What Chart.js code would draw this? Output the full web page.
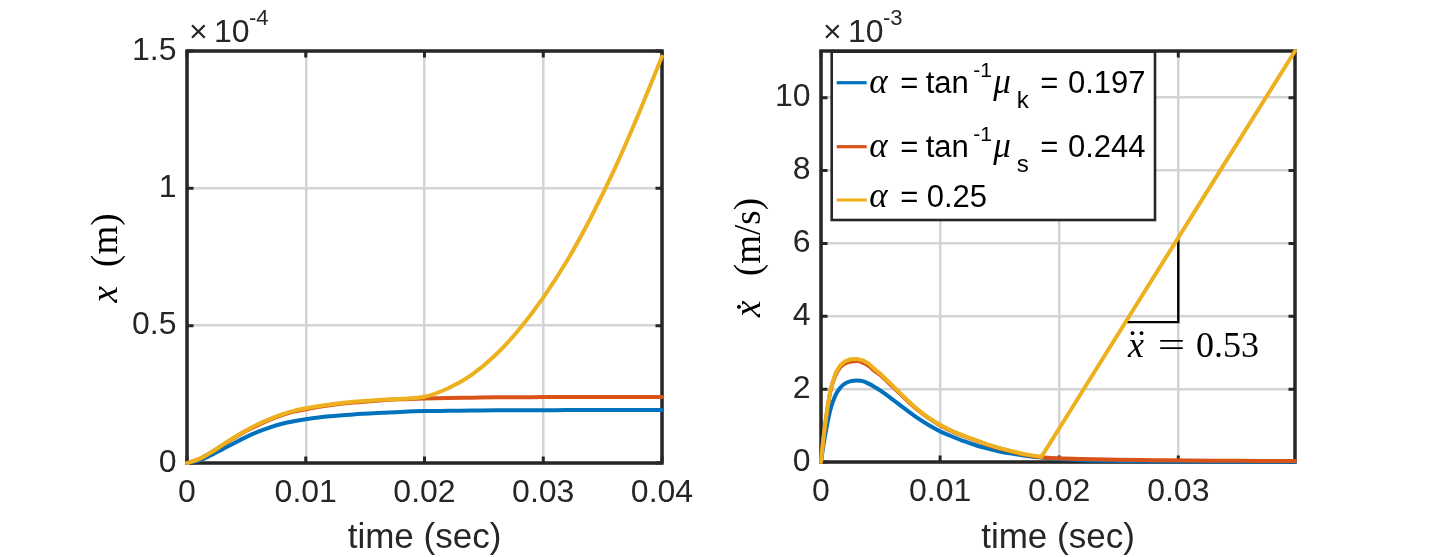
<!DOCTYPE html>
<html><head><meta charset="utf-8">
<script src="https://cdn.jsdelivr.net/npm/chart.js@4.4.1/dist/chart.umd.min.js"></script>
<style>
html,body{margin:0;padding:0;background:#fff;}
#wrap{position:relative;width:1440px;height:557px;overflow:hidden;background:#fff;}
.cv{position:absolute;top:0;width:720px;height:557px;}
</style></head><body>
<div id="wrap">
<div class="cv" style="left:0"><canvas id="c1" width="720" height="557"></canvas></div>
<div class="cv" style="left:720px"><canvas id="c2" width="720" height="557"></canvas></div>
</div>
<script>
// ---------------- data ----------------
const seriesColors = ['#0072BD', '#D95319', '#EDB120'];

// left panel: displacement x (units of 1e-4 m) vs time (s)
const timePos = [0, 0.001, 0.002, 0.003, 0.004, 0.005, 0.006, 0.007, 0.008, 0.009, 0.010,
  0.012, 0.014, 0.016, 0.018, 0.020, 0.022, 0.024, 0.026, 0.028, 0.030, 0.032, 0.034, 0.036, 0.038, 0.040];
const posBlue = [0, 0.009, 0.028, 0.050, 0.073, 0.095, 0.114, 0.130, 0.143, 0.152, 0.159,
  0.170, 0.177, 0.182, 0.186, 0.189, 0.190, 0.191, 0.192, 0.192, 0.192, 0.193, 0.193, 0.193, 0.193, 0.193];
const posOrange = [0, 0.014, 0.037, 0.065, 0.092, 0.117, 0.139, 0.158, 0.174, 0.187, 0.196,
  0.210, 0.220, 0.227, 0.232, 0.235, 0.237, 0.238, 0.239, 0.239, 0.240, 0.240, 0.240, 0.240, 0.240, 0.240];
const posYellow = [0, 0.014, 0.038, 0.066, 0.094, 0.119, 0.142, 0.161, 0.177, 0.190, 0.199,
  0.213, 0.223, 0.229, 0.234, 0.241, 0.272, 0.322, 0.394, 0.488, 0.602, 0.736, 0.893, 1.070, 1.268, 1.480];

// right panel: velocity (units of 1e-3 m/s) vs time (s)
const timeVel = [0, 0.0002, 0.0005, 0.0008, 0.0012, 0.0016, 0.002, 0.0025, 0.003, 0.0035, 0.004, 0.0045,
  0.005, 0.006, 0.007, 0.008, 0.009, 0.010, 0.011, 0.012, 0.013, 0.014, 0.015, 0.016, 0.017, 0.0185,
  0.020, 0.022, 0.025, 0.028, 0.031, 0.034, 0.037, 0.0398];
const velBlue = [0, 0.45, 1.00, 1.45, 1.82, 2.03, 2.15, 2.22, 2.24, 2.22, 2.15, 2.06,
  1.96, 1.72, 1.47, 1.23, 1.02, 0.84, 0.70, 0.57, 0.46, 0.37, 0.29, 0.23, 0.18, 0.12,
  0.08, 0.05, 0.03, 0.02, 0.015, 0.01, 0.01, 0.01];
const velOrange = [0, 0.63, 1.37, 1.96, 2.37, 2.59, 2.70, 2.76, 2.77, 2.73, 2.64, 2.50,
  2.38, 2.07, 1.76, 1.46, 1.21, 1.01, 0.84, 0.71, 0.59, 0.47, 0.37, 0.29, 0.21, 0.13,
  0.10, 0.08, 0.06, 0.05, 0.04, 0.035, 0.03, 0.03];
const velYellow = [0, 0.65, 1.40, 2.00, 2.42, 2.65, 2.76, 2.82, 2.83, 2.79, 2.70, 2.55,
  2.42, 2.10, 1.78, 1.47, 1.22, 1.02, 0.85, 0.72, 0.60, 0.48, 0.38, 0.30, 0.22, 0.14,
  0.92, 1.97, 3.54, 5.11, 6.68, 8.25, 9.82, 11.28];

// slope triangle annotation (time, velocity)
const annotTime = [0.0257, 0.03, 0.03];
const annotVel = [3.84, 3.84, 6.14];
const annotValue = '0.53';
const annotLabelVel = 2.89;

// ticks
const posXTicks = [0, 0.01, 0.02, 0.03, 0.04];
const posXLabels = ['0', '0.01', '0.02', '0.03', '0.04'];
const posYTicks = [0, 0.5, 1, 1.5];
const posYLabels = ['0', '0.5', '1', '1.5'];
const velXTicks = [0, 0.01, 0.02, 0.03];
const velXLabels = ['0', '0.01', '0.02', '0.03'];
const velYTicks = [0, 2, 4, 6, 8, 10];
const velYLabels = ['0', '2', '4', '6', '8', '10'];
const posExponent = '-4';
const velExponent = '-3';

// legend text pieces
const legendSup = ['-1', '-1', null];
const legendSub = ['k', 's', null];
const legendValue = ['0.197', '0.244', '0.25'];

// ---------------- helpers ----------------
const SANS = '"Liberation Sans", Arial, Helvetica, sans-serif';
const SERIF = '"Liberation Serif", "Times New Roman", serif';
const AXC = '#262626';
const GRID = '#d4d4d4';

function pts(xs, ys) { return xs.map((t, i) => ({x: t, y: ys[i]})); }

function lineDS(data, color, order, mono) {
  return {
    data, borderColor: color, backgroundColor: color, borderWidth: 4,
    pointRadius: 0, pointHoverRadius: 0, fill: false, order,
    tension: 0, cubicInterpolationMode: mono ? 'monotone' : 'default',
    borderJoinStyle: 'round', borderCapStyle: 'round', clip: false
  };
}

function axisBoxPlugin(extra) {
  return {
    id: 'matlabBox',
    beforeDatasetsDraw(chart) {
      const {ctx, chartArea: a, scales: {x, y}} = chart;
      ctx.save();
      ctx.strokeStyle = AXC;
      ctx.lineWidth = 3;
      const L = 6.5;
      ctx.beginPath();
      x.ticks.forEach(t => {
        const p = x.getPixelForValue(t.value);
        ctx.moveTo(p, a.bottom); ctx.lineTo(p, a.bottom - L);
        ctx.moveTo(p, a.top); ctx.lineTo(p, a.top + L);
      });
      y.ticks.forEach(t => {
        const p = y.getPixelForValue(t.value);
        ctx.moveTo(a.left, p); ctx.lineTo(a.left + L, p);
        ctx.moveTo(a.right, p); ctx.lineTo(a.right - L, p);
      });
      ctx.stroke();
      ctx.lineWidth = 3.5;
      ctx.strokeRect(a.left, a.top, a.right - a.left, a.bottom - a.top);
      ctx.restore();
    },
    afterDraw(chart) {
      const {ctx, chartArea: a} = chart;
      ctx.save();
      ctx.fillStyle = AXC;
      ctx.textAlign = 'left';
      ctx.textBaseline = 'alphabetic';
      // exponent ×10^n
      ctx.font = '32px ' + SANS;
      ctx.fillText('\u00D7', a.left + 2, 41.7);
      ctx.fillText('10', a.left + 27, 41.7);
      ctx.font = '22px ' + SANS;
      ctx.fillText(extra.exponent, a.left + 62, 25);
      // y title
      const cy = (a.top + a.bottom) / 2 + 1;
      ctx.translate(a.left - extra.titleOff, cy);
      ctx.rotate(-Math.PI / 2);
      const half = extra.titleSpan / 2;
      ctx.font = 'italic 37px ' + SERIF;
      ctx.fillStyle = '#000';
      ctx.fillText('x', -half, 0);
      const wx = ctx.measureText('x').width;
      if (extra.dots) {
        ctx.font = '37px ' + SERIF;
        ctx.textAlign = 'center';
        ctx.fillText(extra.dots, -half + wx / 2 + 2, 2);
        ctx.textAlign = 'left';
      }
      ctx.font = '37px ' + SERIF;
      ctx.textAlign = 'right';
      ctx.fillText(extra.unit, half, 0);
      ctx.restore();
      if (extra.after) extra.after(chart);
    }
  };
}

function drawLegend(chart) {
  const {ctx, chartArea: a} = chart;
  const bx = a.left + 10.7, by = a.top + 0.7, bw = 323.3, bh = 168.3;
  ctx.save();
  ctx.fillStyle = '#fff';
  ctx.fillRect(bx, by, bw, bh);
  ctx.strokeStyle = AXC;
  ctx.lineWidth = 2.6;
  ctx.strokeRect(bx, by, bw, bh);
  const rowLine = [31, 95, 148.3];
  const rowBase = [41, 105, 155];
  const main = '31px ' + SANS, it = 'italic 35px ' + SERIF;
  const sup = '21px ' + SANS, sub = '24px ' + SANS;
  ctx.textAlign = 'left';
  ctx.textBaseline = 'alphabetic';
  for (let i = 0; i < 3; i++) {
    ctx.strokeStyle = seriesColors[i];
    ctx.lineWidth = 3.2;
    ctx.beginPath();
    ctx.moveTo(bx + 5, by + rowLine[i]);
    ctx.lineTo(bx + 35, by + rowLine[i]);
    ctx.stroke();
    const yb = by + rowBase[i];
    ctx.fillStyle = '#000';
    ctx.font = it; ctx.fillText('\u03B1', bx + 37.5, yb);
    ctx.font = main; ctx.fillText('=', bx + 68.5, yb);
    if (legendSup[i]) {
      ctx.font = main; ctx.fillText('tan', bx + 94, yb);
      ctx.font = sup; ctx.fillText(legendSup[i], bx + 141.5, yb - 16);
      ctx.font = it; ctx.fillText('\u03BC', bx + 161.5, yb);
      ctx.font = sub; ctx.fillText(legendSub[i], bx + 185, yb + 15.5);
      ctx.font = main; ctx.fillText('=', bx + 208.5, yb);
      ctx.fillText(legendValue[i], bx + 236.3, yb);
    } else {
      ctx.font = main; ctx.fillText(legendValue[i], bx + 95, yb);
    }
  }
  ctx.restore();
}

function drawAnnot(chart) {
  const {ctx, scales: {x, y}} = chart;
  const px = x.getPixelForValue(annotTime[0]);
  const py = y.getPixelForValue(annotLabelVel);
  ctx.save();
  ctx.fillStyle = '#000';
  ctx.textBaseline = 'alphabetic';
  ctx.textAlign = 'left';
  ctx.font = 'italic 36px ' + SERIF;
  ctx.fillText('x', px + 1, py);
  const wx = ctx.measureText('x').width;
  ctx.font = '36px ' + SERIF;
  ctx.textAlign = 'center';
  const cx = px + 1 + wx / 2 + 1;
  ctx.fillText('\u02D9', cx - 4.5, py - 2);
  ctx.fillText('\u02D9', cx + 4.5, py - 2);
  ctx.save();
  ctx.translate(px + 44.5, py);
  ctx.scale(1.35, 1);
  ctx.fillText('=', 0, 0);
  ctx.restore();
  ctx.textAlign = 'left';
  ctx.fillText(annotValue, px + 69, py);
  ctx.restore();
}

function makeChart(id, cfg) {
  return new Chart(document.getElementById(id), {
    type: 'line',
    data: {datasets: cfg.datasets},
    options: {
      responsive: false, maintainAspectRatio: false, animation: false, events: [],
      layout: {padding: {left: cfg.padL, right: cfg.padR, top: 51, bottom: 0}},
      plugins: {legend: {display: false}, tooltip: {enabled: false}},
      scales: {
        x: {
          type: 'linear', min: 0, max: cfg.xMax,
          afterBuildTicks: s => { s.ticks = cfg.xTicks.map(v => ({value: v})); },
          afterFit: s => { s.height = cfg.xH; },
          ticks: {
            autoSkip: false, maxRotation: 0, minRotation: 0, padding: 14.5, color: AXC,
            font: {family: SANS, size: 32, lineHeight: 1},
            callback: (v, i) => cfg.xLabels[i]
          },
          grid: {color: GRID, lineWidth: 2.5, drawTicks: false},
          border: {display: false},
          title: {display: true, text: 'time (sec)', color: AXC,
            font: {family: SANS, size: 35, lineHeight: 1}, padding: {top: 0, bottom: 1.5}}
        },
        y: {
          type: 'linear', min: 0, max: cfg.yMax,
          afterBuildTicks: s => { s.ticks = cfg.yTicks.map(v => ({value: v})); },
          afterFit: s => { s.width = 80; },
          ticks: {
            autoSkip: false, padding: 10.5, color: AXC,
            font: {family: SANS, size: 32, lineHeight: 1},
            callback: (v, i) => cfg.yLabels[i]
          },
          grid: {color: GRID, lineWidth: 2.5, drawTicks: false},
          border: {display: false}
        }
      }
    },
    plugins: [axisBoxPlugin(cfg.extra)]
  });
}

// left: displacement
makeChart('c1', {
  padL: 107, padR: 58, xH: 94, xMax: 0.04, yMax: 1.5,
  xTicks: posXTicks, xLabels: posXLabels, yTicks: posYTicks, yLabels: posYLabels,
  datasets: [
    lineDS(pts(timePos, posBlue), seriesColors[0], 3, true),
    lineDS(pts(timePos, posOrange), seriesColors[1], 2, true),
    lineDS(pts(timePos, posYellow), seriesColors[2], 0, true)
  ],
  extra: {exponent: posExponent, titleOff: 70, titleSpan: 89, unit: '(m)', dots: null}
});

// right: velocity
makeChart('c2', {
  padL: 21, padR: 145, xH: 95, xMax: 0.0398, yMax: 11.28,
  xTicks: velXTicks, xLabels: velXLabels, yTicks: velYTicks, yLabels: velYLabels,
  datasets: [
    lineDS(pts(timeVel, velBlue), seriesColors[0], 3, true),
    lineDS(pts(timeVel, velOrange), seriesColors[1], 2, true),
    Object.assign(lineDS(pts(annotTime, annotVel), '#000', 1, false), {borderWidth: 2.4, borderCapStyle: 'butt', borderJoinStyle: 'miter'}),
    lineDS(pts(timeVel, velYellow), seriesColors[2], 0, false)
  ],
  extra: {exponent: velExponent, titleOff: 61, titleSpan: 119, unit: '(m/s)', dots: '\u02D9',
    after: chart => { drawAnnot(chart); drawLegend(chart); }}
});
</script>
</body></html>
